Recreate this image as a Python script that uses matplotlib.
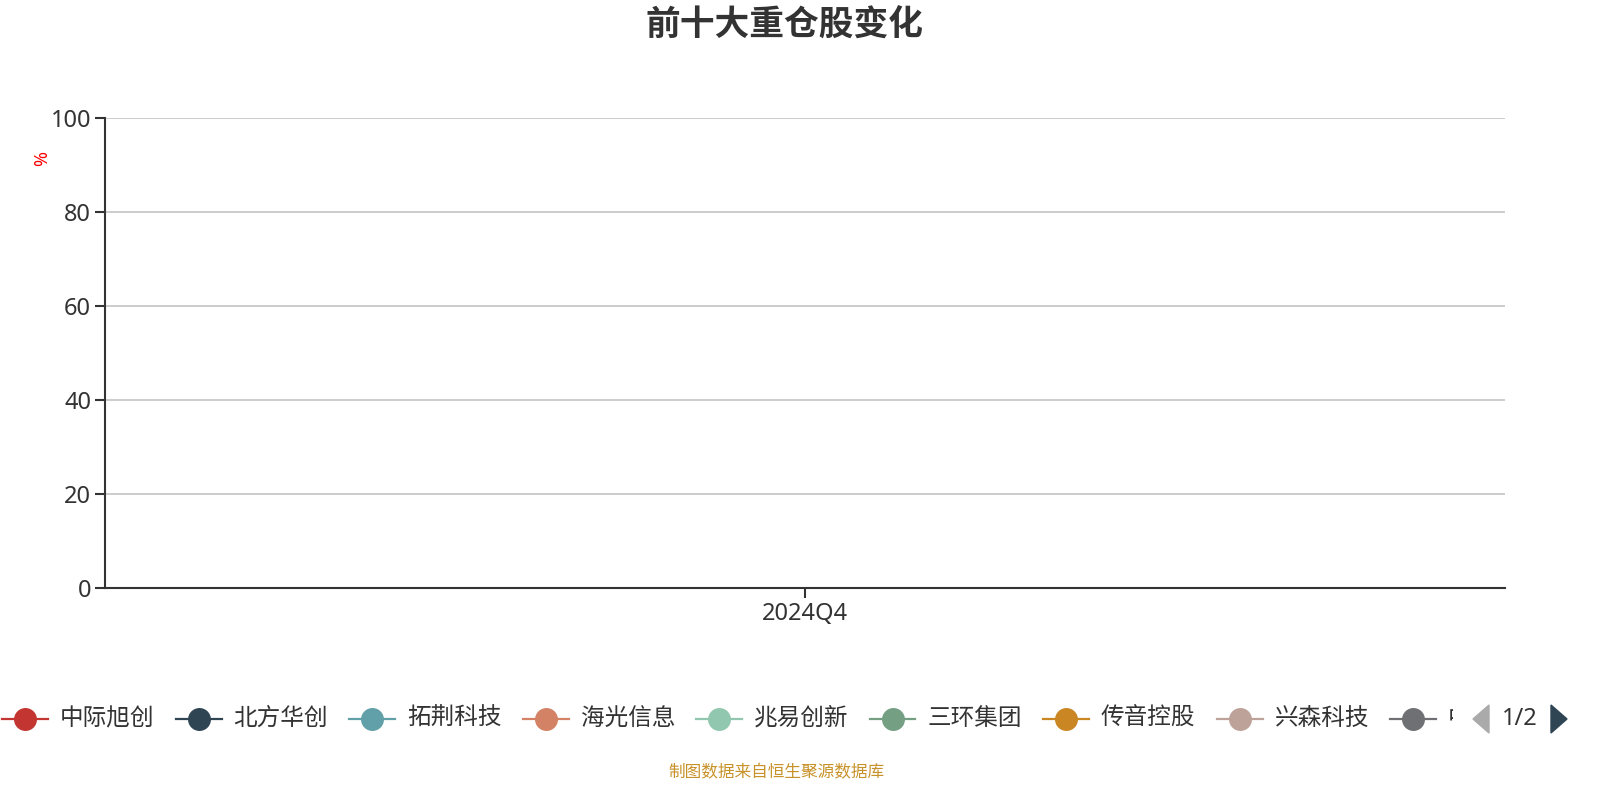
import numpy as np
import matplotlib
matplotlib.use("Agg")
import matplotlib.pyplot as plt
from matplotlib.lines import Line2D
from matplotlib.patches import Polygon, Rectangle

plt.rcParams['font.family'] = ['Noto Sans', 'Noto Sans CJK SC', 'DejaVu Sans']

# ---- data ----
quarters = ["2024Q4"]
stock_names = ["中际旭创", "北方华创", "拓荆科技", "海光信息", "兆易创新",
               "三环集团", "传音控股", "兴森科技", "中微公司"]
# holding ratios (%) per quarter: no values shown in the reference
stock_values = [[np.nan] for _ in stock_names]
y_ticks = [0, 20, 40, 60, 80, 100]

colors = ["#c23531", "#2f4554", "#61a0a8", "#d48265", "#91c7ae",
          "#749f83", "#ca8622", "#bda29a", "#6e7074"]

W, H = 1600, 800
fig = plt.figure(figsize=(W / 100, H / 100), dpi=100)
fig.patch.set_facecolor("white")

def fx(px):
    return px / W

def fy(py):
    return 1 - py / H

ax = fig.add_axes([fx(105), fy(588), fx(1505) - fx(105), fy(118) - fy(588)])
x = np.arange(len(quarters))
for name, vals, c in zip(stock_names, stock_values, colors):
    ax.plot(x, vals, color=c, marker="o", lw=1.5, label=name)

ax.set_xlim(-0.5, len(quarters) - 0.5)
ax.set_ylim(0, 100)
ax.set_yticks(y_ticks)
ax.set_xticks(x)
ax.set_xticklabels(quarters)
ax.grid(axis="y", color="#c8c8c8", lw=1.3)
ax.set_axisbelow(True)
for s in ["top", "right"]:
    ax.spines[s].set_visible(False)
for s in ["left", "bottom"]:
    ax.spines[s].set_color("#333333")
    ax.spines[s].set_linewidth(1.5)
ax.tick_params(axis="both", colors="#333333", labelcolor="#333333",
               labelsize=17, length=7, width=1.5)
ax.tick_params(axis="y", pad=3)
ax.tick_params(axis="x", pad=3)

fig.text(fx(42), fy(158), "%", color="red", fontsize=13, rotation=90,
         ha="center", va="center")

fig.text(fx(784), fy(27), "前十大重仓股变化", fontsize=25, fontweight="bold",
         color="#333333", ha="center", va="center")

# ---- legend (page 1/2; the last label is cut off by the pager) ----
ly = fy(719)
clip = Rectangle((0, 0), fx(1453), 1, transform=fig.transFigure)
for i, (name, c) in enumerate(zip(stock_names, colors)):
    cx = 25 + i * 173.5
    ln = Line2D([fx(cx - 23), fx(cx + 23)], [ly, ly], transform=fig.transFigure,
                color=c, lw=1.6)
    mk = Line2D([fx(cx)], [ly], transform=fig.transFigure, marker="o",
                markersize=15.5, color=c, lw=0)
    fig.add_artist(ln)
    fig.add_artist(mk)
    label = name if i < len(stock_names) - 1 else name[0]
    t = fig.text(fx(cx + 35), ly, label, fontsize=17, color="#333333",
                 ha="left", va="center")
    t.set_clip_path(clip)
    t.set_clip_on(True)

# pager
fig.add_artist(Polygon([[fx(1489), fy(705)], [fx(1489), fy(733)], [fx(1473), fy(719)]],
                       closed=True, transform=fig.transFigure, color="#aaaaaa"))
fig.text(fx(1520), ly, "1/2", fontsize=17, color="#333333", ha="center", va="center")
fig.add_artist(Polygon([[fx(1551), fy(705)], [fx(1551), fy(733)], [fx(1567), fy(719)]],
                       closed=True, transform=fig.transFigure, color="#2f4554"))

fig.text(fx(776), fy(773), "制图数据来自恒生聚源数据库", fontsize=12,
         color="#c8922a", ha="center", va="center")

fig.savefig("out.png", dpi=100)
